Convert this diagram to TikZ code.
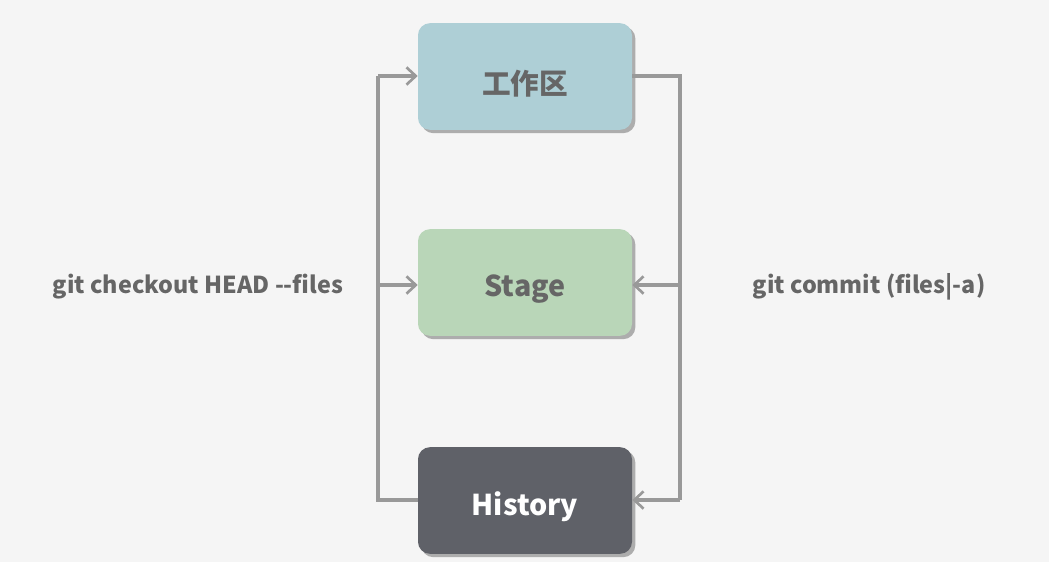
\documentclass[tikz,border=0pt]{standalone}
\usepackage{fontspec}
\setmainfont{Noto Sans CJK SC}
\usetikzlibrary{arrows.meta}
\definecolor{bg}{HTML}{F5F5F5}
\definecolor{linec}{HTML}{999999}
\definecolor{txt}{HTML}{666666}
\definecolor{work}{HTML}{AECFD6}
\definecolor{stage}{HTML}{B9D6B8}
\definecolor{hist}{HTML}{5F6168}
\definecolor{shad}{HTML}{ADADAD}
\newcommand{\boxtext}[1]{\raisebox{-5pt}[\height][\depth]{#1}}
\tikzset{
  box/.style={rounded corners=9pt, minimum width=160.5pt, minimum height=80pt, inner sep=0pt,
    font=\fontsize{21.5}{24}\selectfont\bfseries, text=txt,
    preaction={fill=shad, transform canvas={xshift=2.5pt, yshift=-2.5pt}}},
  conn/.style={draw=linec, line width=2.6pt},
  arr/.style={conn, -{Straight Barb[length=7pt, width=13pt, line width=2pt]}},
  lbl/.style={font=\fontsize{17.5}{20}\selectfont\bfseries, text=txt}
}
\begin{document}
\begin{tikzpicture}[x=0.75pt, y=-0.75pt]
\fill[bg] (0,0) rectangle (1049,562);
\useasboundingbox (0,0) rectangle (1049,562);
\node[box, fill=work] (w) at (525,76.5) {\boxtext{工作区}};
\node[box, fill=stage] (s) at (525,282.5) {\boxtext{Stage}};
\node[box, fill=hist, text=white] (h) at (525,500.5) {\boxtext{History}};
\coordinate (lt) at (378,76);
\coordinate (lb) at (378,500);
\coordinate (lm) at (378,285);
\coordinate (rt) at (680,76);
\coordinate (rb) at (680,500);
\coordinate (rm) at (680,285);
\draw[conn] (h.west |- lb) -- (lb) -- (lt);
\draw[arr] (lt) -- (w.west |- lt);
\draw[arr] (lm) -- (s.west |- lm);
\draw[conn] (w.east |- rt) -- (rt) -- (rb);
\draw[arr] (rb) -- (h.east |- rb);
\draw[arr] (rm) -- (s.east |- rm);
\node[lbl] (l1) at (198,287) {git checkout HEAD -{}-files};
\node[lbl] (l2) at (869,287) {git commit (files|-a)};
\end{tikzpicture}
\end{document}
